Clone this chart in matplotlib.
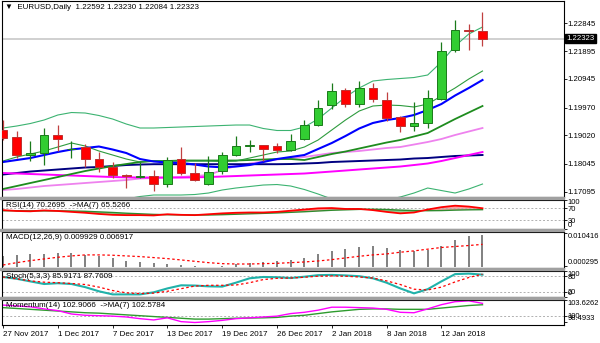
import numpy as np
import matplotlib
matplotlib.use("Agg")
import matplotlib.pyplot as plt
from matplotlib.patches import Rectangle

plt.rcParams["font.family"] = ["Liberation Sans", "DejaVu Sans"]

# ---- datos (EURUSD diario) ----
date_ticks = [0, 4, 8, 12, 16, 20, 24, 28, 32]
date_labels = ["27 Nov 2017", "1 Dec 2017", "7 Dec 2017", "13 Dec 2017", "19 Dec 2017",
               "26 Dec 2017", "2 Jan 2018", "8 Jan 2018", "12 Jan 2018"]

opens = [1.19212, 1.18962, 1.18348, 1.18416, 1.19020, 1.18560, 1.18611, 1.18222, 1.17928, 1.17675,
         1.17586, 1.17620, 1.17368, 1.18211, 1.17733, 1.17368, 1.17791, 1.18337, 1.18670, 1.18700,
         1.18665, 1.18529, 1.18904, 1.19362, 1.20045, 1.20557, 1.20100, 1.20636, 1.20236, 1.19635,
         1.19328, 1.19441, 1.20270, 1.21923, 1.22606, 1.22592]
highs = [1.19553, 1.19157, 1.18816, 1.19270, 1.19383, 1.18816, 1.18723, 1.18450, 1.18109, 1.17699,
         1.18109, 1.17846, 1.18269, 1.18611, 1.18075, 1.18303, 1.18450, 1.18986, 1.18870, 1.18705,
         1.18758, 1.19065, 1.19553, 1.20236, 1.20807, 1.20636, 1.20865, 1.20796, 1.20499, 1.19669,
         1.20147, 1.20578, 1.22196, 1.22968, 1.22821, 1.23230]
lows = [1.18860, 1.18245, 1.18133, 1.18017, 1.18474, 1.18245, 1.17928, 1.17757, 1.17562, 1.17221,
        1.17562, 1.17129, 1.17245, 1.17675, 1.17450, 1.17334, 1.17709, 1.18303, 1.18450, 1.18133,
        1.18416, 1.18495, 1.18870, 1.19328, 1.19929, 1.19977, 1.19987, 1.20158, 1.19519, 1.19123,
        1.19178, 1.19270, 1.20236, 1.21855, 1.21923, 1.22084]
closes = [1.18928, 1.18358, 1.18416, 1.19020, 1.18904, 1.18570, 1.18222, 1.17928, 1.17655, 1.17620,
          1.17631, 1.17368, 1.18187, 1.17733, 1.17504, 1.17767, 1.18337, 1.18665, 1.18690, 1.18563,
          1.18529, 1.18836, 1.19383, 1.19953, 1.20523, 1.20100, 1.20636, 1.20270, 1.19611, 1.19328,
          1.19441, 1.20294, 1.21889, 1.22606, 1.22572, 1.22323]

bb_upper = [1.19270, 1.19338, 1.19424, 1.19543, 1.19714, 1.19799, 1.19782, 1.19697, 1.19577, 1.19406,
            1.19270, 1.19270, 1.19287, 1.19304, 1.19321, 1.19338, 1.19355, 1.19372, 1.19372, 1.19253,
            1.19185, 1.19185, 1.19304, 1.19577, 1.19953, 1.20328, 1.20636, 1.20875, 1.20926, 1.20960,
            1.20994, 1.21080, 1.21524, 1.22070, 1.22480, 1.22719]
bb_lower = [1.16640, 1.16572, 1.16504, 1.16469, 1.16435, 1.16469, 1.16538, 1.16640, 1.16743, 1.16845,
            1.16931, 1.16982, 1.16982, 1.16982, 1.16999, 1.17050, 1.17153, 1.17221, 1.17272, 1.17323,
            1.17340, 1.17289, 1.17170, 1.17016, 1.16845, 1.16708, 1.16640, 1.16675, 1.16811, 1.16914,
            1.17050, 1.17221, 1.17135, 1.17050, 1.17187, 1.17357]
ma_fast = [1.18143, 1.18280, 1.18382, 1.18485, 1.18621, 1.18758, 1.18655, 1.18485, 1.18348, 1.18211,
           1.18109, 1.18143, 1.18143, 1.18143, 1.18143, 1.18143, 1.18126, 1.18143, 1.18245, 1.18348,
           1.18450, 1.18485, 1.18621, 1.18860, 1.19202, 1.19543, 1.19850, 1.20021, 1.20055, 1.20038,
           1.19987, 1.20089, 1.20363, 1.20636, 1.20943, 1.21216]
ma_blue = [1.18109, 1.18177, 1.18245, 1.18348, 1.18450, 1.18536, 1.18587, 1.18638, 1.18536, 1.18416,
           1.18211, 1.18126, 1.18092, 1.18075, 1.18023, 1.17955, 1.17928, 1.17955, 1.18006, 1.18109,
           1.18211, 1.18280, 1.18348, 1.18553, 1.18758, 1.18997, 1.19253, 1.19441, 1.19543, 1.19611,
           1.19714, 1.19885, 1.20089, 1.20380, 1.20636, 1.20909]
ma_green = [1.17187, 1.17289, 1.17392, 1.17494, 1.17596, 1.17699, 1.17801, 1.17887, 1.17972, 1.18040,
            1.18109, 1.18143, 1.18143, 1.18160, 1.18160, 1.18160, 1.18160, 1.18160, 1.18177, 1.18194,
            1.18211, 1.18211, 1.18177, 1.18280, 1.18382, 1.18467, 1.18570, 1.18672, 1.18774, 1.18860,
            1.18980, 1.19099, 1.19338, 1.19577, 1.19799, 1.20021]
ma_violet = [1.17153, 1.17187, 1.17238, 1.17289, 1.17323, 1.17357, 1.17392, 1.17426, 1.17460, 1.17494,
             1.17545, 1.17562, 1.17579, 1.17596, 1.17630, 1.17665, 1.17836, 1.17972, 1.18058, 1.18126,
             1.18194, 1.18245, 1.18280, 1.18348, 1.18416, 1.18450, 1.18485, 1.18536, 1.18587, 1.18621,
             1.18706, 1.18792, 1.18894, 1.19031, 1.19151, 1.19270]
ma_magenta = [1.17733, 1.17716, 1.17699, 1.17682, 1.17665, 1.17648, 1.17630, 1.17613, 1.17596, 1.17586,
              1.17579, 1.17579, 1.17579, 1.17579, 1.17586, 1.17596, 1.17613, 1.17630, 1.17648, 1.17665,
              1.17682, 1.17699, 1.17716, 1.17750, 1.17784, 1.17818, 1.17853, 1.17887, 1.17921, 1.17955,
              1.18006, 1.18058, 1.18143, 1.18245, 1.18348, 1.18450]
ma_navy = [1.17682, 1.17733, 1.17784, 1.17818, 1.17853, 1.17887, 1.17921, 1.17938, 1.17972, 1.18006,
           1.18023, 1.18034, 1.18034, 1.18034, 1.18034, 1.18034, 1.18034, 1.18034, 1.18034, 1.18034,
           1.18034, 1.18040, 1.18058, 1.18075, 1.18109, 1.18126, 1.18143, 1.18160, 1.18177, 1.18194,
           1.18228, 1.18245, 1.18280, 1.18314, 1.18331, 1.18348]

rsi = [64, 61, 60, 63, 61, 58, 55, 51, 48, 47, 47, 46, 50, 48, 47, 50, 53, 55, 56, 56,
       58, 62, 66, 70, 71, 68, 68, 64, 58, 53, 56, 66, 74, 79, 76, 70.2695]
rsi_ma = [62, 62, 61.5, 61.5, 61.5, 61, 60, 58, 56, 53.5, 51.5, 49.5, 48.5, 48, 47.5, 47.5, 48.5, 50,
          51.5, 53, 54.5, 56.5, 58.5, 61, 63.5, 65, 66.5, 67, 66, 64, 62.5, 62, 62.5, 64, 65, 65.5266]

macd = [3.34, 3.65, 3.86, 3.96, 4.17, 4.17, 3.65, 3.34, 2.61, 1.88, 1.57, 1.04, 0.83, 0.52, 0.21, 0.05,
        0.31, 0.83, 1.04, 1.57, 1.77, 2.09, 2.82, 3.86, 4.90, 5.43, 6.26, 6.57, 5.95, 5.22, 4.90, 5.22,
        6.47, 8.14, 9.39, 9.929]
macd_signal = [0.52, 1.25, 1.88, 2.40, 2.92, 3.34, 3.65, 3.65, 3.55, 3.34, 3.13, 2.82, 2.50, 2.09, 1.67,
               1.25, 0.94, 0.83, 0.83, 0.94, 1.04, 1.25, 1.46, 1.77, 2.19, 2.71, 3.23, 3.65, 3.96, 4.49,
               4.90, 5.43, 5.95, 6.26, 6.57, 6.917]

stoch_k = [77, 70, 60, 50, 53, 50, 38, 22, 10, 10, 10, 18, 33, 45, 44, 41, 40, 55, 72, 77,
           76, 73, 78, 84, 85, 83, 80, 72, 55, 33, 14, 30, 60, 88, 90, 85.9171]
stoch_d = [77, 70, 62, 57, 55, 52, 48, 38, 25, 16, 13, 15, 22, 32, 42, 45, 45, 46, 55, 67,
           72, 73, 76, 80, 81, 80, 77, 73, 62, 48, 30, 27, 38, 58, 75, 87.7609]

momentum = [102.5, 102.3, 102.1, 101.6, 101.2, 100.4, 100.1, 100.0, 99.9, 99.7, 99.3, 99.0, 99.5, 98.6,
            98.4, 98.6, 98.9, 99.3, 99.5, 99.7, 99.9, 100.5, 100.8, 101.3, 102.0, 102.0, 101.9, 101.8,
            101.5, 100.8, 100.7, 101.6, 102.6, 103.3, 103.5, 102.9066]
momentum_ma = [101.9, 101.7, 101.5, 101.3, 101.1, 100.9, 100.7, 100.6, 100.4, 100.2, 100.0, 99.8, 99.6,
               99.4, 99.2, 99.2, 99.3, 99.4, 99.45, 99.5, 99.6, 99.9, 100.1, 100.5, 100.9, 101.2, 101.5,
               101.6, 101.6, 101.5, 101.5, 101.5, 101.8, 102.1, 102.4, 102.5784]

price_ticks = [1.22845, 1.21895, 1.20945, 1.19970, 1.19020, 1.18045, 1.17095]
last_price = 1.22323

# ---- figura ----
W, H = 600, 343
fig = plt.figure(figsize=(W / 100, H / 100), dpi=100)
fig.patch.set_facecolor("white")
FS = 5.8     # textos de los paneles y fechas
FS_AX = 5.4  # etiquetas del eje derecho
x = np.arange(len(closes))


def panel(top, bottom):
    ax = fig.add_axes([2 / W, 1 - bottom / H, (564 - 2) / W, (bottom - top) / H])
    ax.set_xlim(-0.073, 40.95)
    for s in ax.spines.values():
        s.set_color("black")
        s.set_linewidth(0.8)
    ax.tick_params(axis="x", bottom=False, labelbottom=False)
    ax.yaxis.tick_right()
    ax.tick_params(axis="y", direction="out", length=2.0, width=0.6, labelsize=FS_AX, pad=0.6)
    return ax


def side_labels(ax, ticks, labels):
    # como MT4: el valor maximo y minimo quedan dentro del panel
    ax.set_yticks(ticks)
    ax.set_yticklabels(labels)
    tl = ax.get_yticklabels()
    tl[0].set_va("top")
    tl[-1].set_va("bottom")


# separadores grises entre paneles
for y0 in [197.3, 229.3, 268.3, 297.3]:
    fig.patches.append(Rectangle((0, 1 - (y0 + 1.6) / H), 564 / W, 1.6 / H,
                                 transform=fig.transFigure, color="#a0a0a0", zorder=0))

# ---- panel principal ----
ax = panel(1, 197)
ax.set_ylim(1.16914, 1.23607)
ax.axhline(last_price, color="#c8c8c8", lw=1.2, zorder=1)

ax.plot(x, bb_upper, color="#3cb371", lw=0.8, zorder=2)
ax.plot(x, bb_lower, color="#3cb371", lw=0.8, zorder=2)
ax.plot(x, ma_violet, color="#ee82ee", lw=1.3, zorder=2)
ax.plot(x, ma_navy, color="#000080", lw=1.4, zorder=2)
ax.plot(x, ma_magenta, color="#ff00ff", lw=1.4, zorder=2)
ax.plot(x, ma_green, color="#1e8c1e", lw=1.3, zorder=2)
ax.plot(x, ma_fast, color="#2e9b3e", lw=0.8, zorder=2)
ax.plot(x, ma_blue, color="#0000ff", lw=1.5, zorder=2)

for i in range(len(closes)):
    o, h, l, c = opens[i], highs[i], lows[i], closes[i]
    up = c >= o
    wick = "#1a7a1a" if up else "#c04040"
    ax.vlines(i, l, h, color=wick, lw=0.9, zorder=3)
    ax.add_patch(Rectangle((i - 0.32, min(o, c)), 0.64, max(abs(c - o), 0.00004),
                           facecolor="#32cd32" if up else "#ff0000",
                           edgecolor="#1a7a1a" if up else "#c03030", lw=0.7, zorder=4))

ax.set_yticks(price_ticks)
ax.set_yticklabels([f"{p:.5f}" for p in price_ticks])
ax.tick_params(axis="y", labelsize=5.6)
ax.text(1.004, last_price, f"{last_price:.5f}", transform=ax.get_yaxis_transform(),
        fontsize=5.6, color="white", va="center", ha="left",
        bbox=dict(boxstyle="square,pad=0.15", fc="black", ec="black"), clip_on=False)
ax.text(0.006, 0.965, "\u25bc  EURUSD,Daily  1.22592 1.23230 1.22084 1.22323",
        transform=ax.transAxes, fontsize=FS, va="center", ha="left")

# ---- RSI ----
ax = panel(199.5, 229)
ax.set_ylim(0, 100)
for lv in [70, 30]:
    ax.axhline(lv, color="#b0b0b0", lw=0.7, ls=(0, (2, 2)))
ax.fill_between(x, rsi, rsi_ma, where=np.array(rsi_ma) >= np.array(rsi),
                color="#90d090", lw=0, interpolate=True)
ax.fill_between(x, rsi, rsi_ma, where=np.array(rsi) > np.array(rsi_ma),
                color="#ffa0a0", lw=0, interpolate=True)
ax.plot(x, rsi_ma, color="#2e8b2e", lw=1.0)
ax.plot(x, rsi, color="#ff0000", lw=1.3)
side_labels(ax, [100, 70, 30, 0], ["100", "70", "30", "0"])
ax.text(0.008, 0.8, "RSI(14) 70.2695  ->MA(7) 65.5266", transform=ax.transAxes,
        fontsize=FS, va="center")

# ---- MACD ----
ax = panel(232, 268)
ax.set_ylim(-0.00041, 0.01076)
ax.vlines(x, 0, np.array(macd) / 1000, color="#808080", lw=1.4)
ax.plot(x, np.array(macd_signal) / 1000, color="#ff0000", lw=0.9, ls=(0, (2, 2)))
side_labels(ax, [0.010416, 0.000295], ["0.010416", "0.000295"])
ax.text(0.008, 0.85, "MACD(12,26,9) 0.009929 0.006917", transform=ax.transAxes,
        fontsize=FS, va="center")

# ---- Estocastico ----
ax = panel(271, 297)
ax.set_ylim(0, 100)
for lv in [80, 20]:
    ax.axhline(lv, color="#b0b0b0", lw=0.7, ls=(0, (2, 2)))
ax.plot(x, stoch_k, color="#20b2aa", lw=1.5)
ax.plot(x, stoch_d, color="#ff0000", lw=0.9, ls=(0, (2, 2)))
side_labels(ax, [100, 80, 20, 0], ["100", "80", "20", "0"])
ax.text(0.008, 0.78, "Stoch(5,3,3) 85.9171 87.7609", transform=ax.transAxes,
        fontsize=FS, va="center")

# ---- Momentum ----
ax = panel(299.5, 325)
ax.set_ylim(97.81, 103.815)
ax.axhline(100, color="#b0b0b0", lw=0.7, ls=(0, (2, 2)))
ax.plot(x, momentum_ma, color="#2e9b2e", lw=1.0)
ax.plot(x, momentum, color="#ff00ff", lw=1.0)
side_labels(ax, [103.6262, 100, 98.4933], ["103.6262", "100", "98.4933"])
ax.text(0.008, 0.78, "Momentum(14) 102.9066  ->MA(7) 102.5784", transform=ax.transAxes,
        fontsize=FS, va="center")
ax.set_xticks(date_ticks)
ax.set_xticklabels(date_labels, ha="left")
ax.tick_params(axis="x", bottom=True, labelbottom=True, direction="out", length=2.5,
               width=0.6, labelsize=FS, pad=1.5)

fig.savefig("out.png", dpi=100)
